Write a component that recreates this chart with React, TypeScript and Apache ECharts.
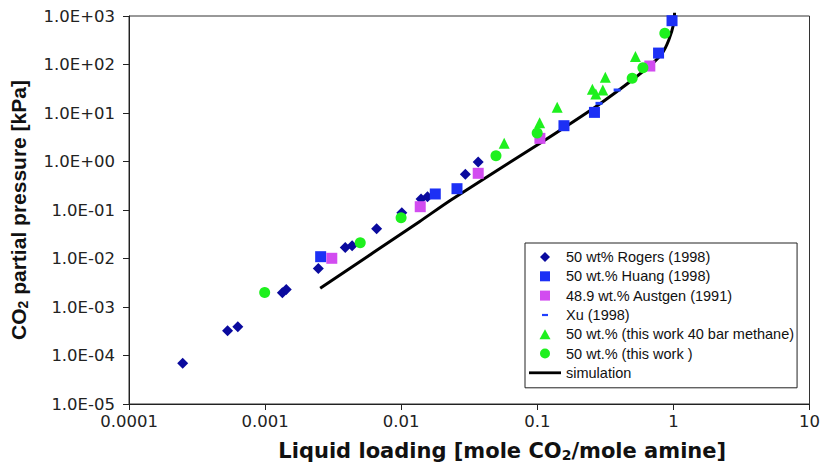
import React, { useEffect, useRef } from "react";
import * as echarts from "echarts";

// Tick labels
const xTickLabels = ["0.0001", "0.001", "0.01", "0.1", "1", "10"];
const yTickLabels = ["1.0E-05", "1.0E-04", "1.0E-03", "1.0E-02", "1.0E-01", "1.0E+00", "1.0E+01", "1.0E+02", "1.0E+03"];

// Series names
const seriesNames = [
  "50 wt% Rogers (1998)",
  "50 wt.% Huang (1998)",
  "48.9 wt.% Austgen (1991)",
  "Xu (1998)",
  "50 wt.% (this work 40 bar methane)",
  "50 wt.% (this work )",
  "simulation",
];

// 50 wt% Rogers (1998)
const rogersX = [0.000248, 0.00053, 0.00063, 0.00134, 0.00143, 0.00246, 0.00388, 0.00436, 0.0066, 0.0101, 0.014, 0.0156, 0.0296, 0.0368];
const rogersY = [6.9e-5, 3.24e-4, 3.9e-4, 1.97e-3, 2.3e-3, 6.2e-3, 0.0169, 0.0184, 0.041, 0.088, 0.169, 0.188, 0.545, 0.98];

// 50 wt.% Huang (1998)
const huangX = [0.00256, 0.0178, 0.0257, 0.157, 0.263, 0.778, 0.977];
const huangY = [0.0109, 0.214, 0.275, 5.47, 10.3, 172, 800];

// 48.9 wt.% Austgen (1991)
const austgenX = [0.00309, 0.0138, 0.0368, 0.1045, 0.671];
const austgenY = [0.0101, 0.117, 0.571, 3.0, 93];

// Xu (1998)
const xuX = [0.284, 0.386];
const xuY = [15.8, 29.8];

// 50 wt.% (this work 40 bar methane)
const methaneX = [0.0571, 0.104, 0.14, 0.254, 0.269, 0.303, 0.316, 0.526];
const methaneY = [2.37, 6.3, 13.1, 30.8, 24.6, 29.8, 54.5, 146];

// 50 wt.% (this work )
const thisWorkX = [0.000993, 0.005, 0.00998, 0.0497, 0.0998, 0.498, 0.597, 0.865];
const thisWorkY = [0.002, 0.0212, 0.069, 1.32, 3.87, 51.9, 85.9, 440];

// simulation
const simX = [0.00254, 0.0136, 0.0232, 0.109, 0.269, 0.398, 0.498, 0.661, 0.826, 0.925, 1.007, 1.02];
const simY = [0.00243, 0.0574, 0.161, 2.56, 13.5, 29.8, 47.9, 90, 170, 320, 707, 1170];

const zip = (xs: number[], ys: number[]) => xs.map((x, i) => [x, ys[i]]);

const FONT = "'Liberation Sans', Arial, Helvetica, sans-serif";
const WIDE_FONT = "'DejaVu Sans', Verdana, sans-serif";

// legend icons (bounding box forced to 32x10 with leading moveTo points)
const ICON_BOX = "path://M0,0M32,10";
const diamondIcon = ICON_BOX + "M16,-0.5L21.5,5L16,10.5L10.5,5Z";
const squareIcon = ICON_BOX + "M11,0L21,0L21,10L11,10Z";
const triangleIcon = ICON_BOX + "M16,0L21.5,10L10.5,10Z";
const circleIcon = ICON_BOX + "M11,5A5,5 0 1,0 21,5A5,5 0 1,0 11,5Z";
const xuIcon = ICON_BOX + "M13,4L19,4L19,6.2L13,6.2Z";
const lineIcon = ICON_BOX + "M0,3.6L32,3.6L32,6.4L0,6.4Z";

export default function App() {
  const ref = useRef<HTMLDivElement>(null);

  useEffect(() => {
    document.body.style.margin = "0";
    document.body.style.overflow = "hidden";
    if (!ref.current) return;
    const chart = echarts.init(ref.current, undefined, { renderer: "svg" });

    const scatter = (name: string, xs: number[], ys: number[], symbol: any, size: any, color: string) => ({
      name,
      type: "scatter",
      data: zip(xs, ys),
      symbol,
      symbolSize: size,
      itemStyle: { color, opacity: 1 },
      z: 3,
      emphasis: { disabled: true },
    });

    chart.setOption({
      animation: false,
      backgroundColor: "#ffffff",
      grid: {
        left: 129,
        right: 12,
        top: 16,
        bottom: 65,
        show: true,
        borderColor: "#333",
        borderWidth: 1,
      },
      legend: {
        orient: "vertical",
        left: 525,
        top: 243,
        padding: [6, 3, 7, 4],
        itemGap: 3.3,
        itemWidth: 32,
        itemHeight: 10,
        borderColor: "#222",
        borderWidth: 1,
        backgroundColor: "#fff",
        selectedMode: false,
        textStyle: { fontFamily: FONT, fontSize: 14.5, color: "#111", lineHeight: 16 },
        data: [
          { name: seriesNames[0], icon: diamondIcon },
          { name: seriesNames[1], icon: squareIcon },
          { name: seriesNames[2], icon: squareIcon },
          { name: seriesNames[3], icon: xuIcon },
          { name: seriesNames[4], icon: triangleIcon },
          { name: seriesNames[5], icon: circleIcon },
          { name: seriesNames[6], icon: lineIcon },
        ],
      },
      xAxis: {
        type: "log",
        logBase: 10,
        min: 0.0001,
        max: 10,
        name: "Liquid loading [mole CO{sub|2}/mole amine]",
        nameLocation: "middle",
        nameGap: 35,
        nameTextStyle: {
          fontFamily: WIDE_FONT,
          fontWeight: "bold",
          color: "#111",
          fontSize: 21,
          padding: [0, 0, 0, 66],
          rich: {
            sub: { fontFamily: WIDE_FONT, fontWeight: "bold", color: "#111", fontSize: 14, padding: [9, 0, 0, 0] },
          },
        },
        axisLine: { show: true, lineStyle: { color: "#222", width: 1 } },
        axisTick: { show: true, inside: false, length: 6, lineStyle: { color: "#222" } },
        minorTick: { show: false },
        splitLine: { show: false },
        axisLabel: {
          fontFamily: WIDE_FONT,
          fontSize: 16.5,
          color: "#222",
          margin: 9,
          formatter: (v: number) => xTickLabels[Math.round(Math.log10(v)) + 4] ?? "",
        },
      },
      yAxis: {
        type: "log",
        logBase: 10,
        min: 0.00001,
        max: 1000,
        name: "CO{sub|2} partial pressure [kPa]",
        nameLocation: "middle",
        nameGap: 99,
        nameTextStyle: {
          fontFamily: FONT,
          fontWeight: "bold",
          color: "#111",
          fontSize: 21,
          rich: {
            sub: { fontFamily: FONT, fontWeight: "bold", color: "#111", fontSize: 14, padding: [9, 0, 0, 0] },
          },
        },
        axisLine: { show: true, lineStyle: { color: "#222", width: 1 } },
        axisTick: { show: true, inside: false, length: 6, lineStyle: { color: "#222" } },
        minorTick: { show: false },
        splitLine: { show: false },
        axisLabel: {
          fontFamily: WIDE_FONT,
          fontSize: 16.5,
          color: "#222",
          margin: 14,
          formatter: (v: number) => yTickLabels[Math.round(Math.log10(v)) + 5] ?? "",
        },
      },
      series: [
        {
          name: seriesNames[6],
          type: "line",
          data: zip(simX, simY),
          symbol: "none",
          smooth: 0.25,
          clip: false,
          z: 1,
          lineStyle: { color: "#000", width: 3 },
          itemStyle: { color: "#000" },
          emphasis: { disabled: true },
        },
        scatter(seriesNames[0], rogersX, rogersY, "diamond", 11, "#0a0a9e"),
        scatter(seriesNames[1], huangX, huangY, "rect", 11, "#1c30f5"),
        scatter(seriesNames[2], austgenX, austgenY, "rect", 11, "#d24cf0"),
        scatter(seriesNames[3], xuX, xuY, "rect", [7, 3], "#2040ff"),
        scatter(seriesNames[4], methaneX, methaneY, "triangle", 11, "#1ef01e"),
        scatter(seriesNames[5], thisWorkX, thisWorkY, "circle", 11, "#1ef01e"),
      ],
    });

    return () => chart.dispose();
  }, []);

  return <div ref={ref} style={{ width: 823, height: 469 }} />;
}
